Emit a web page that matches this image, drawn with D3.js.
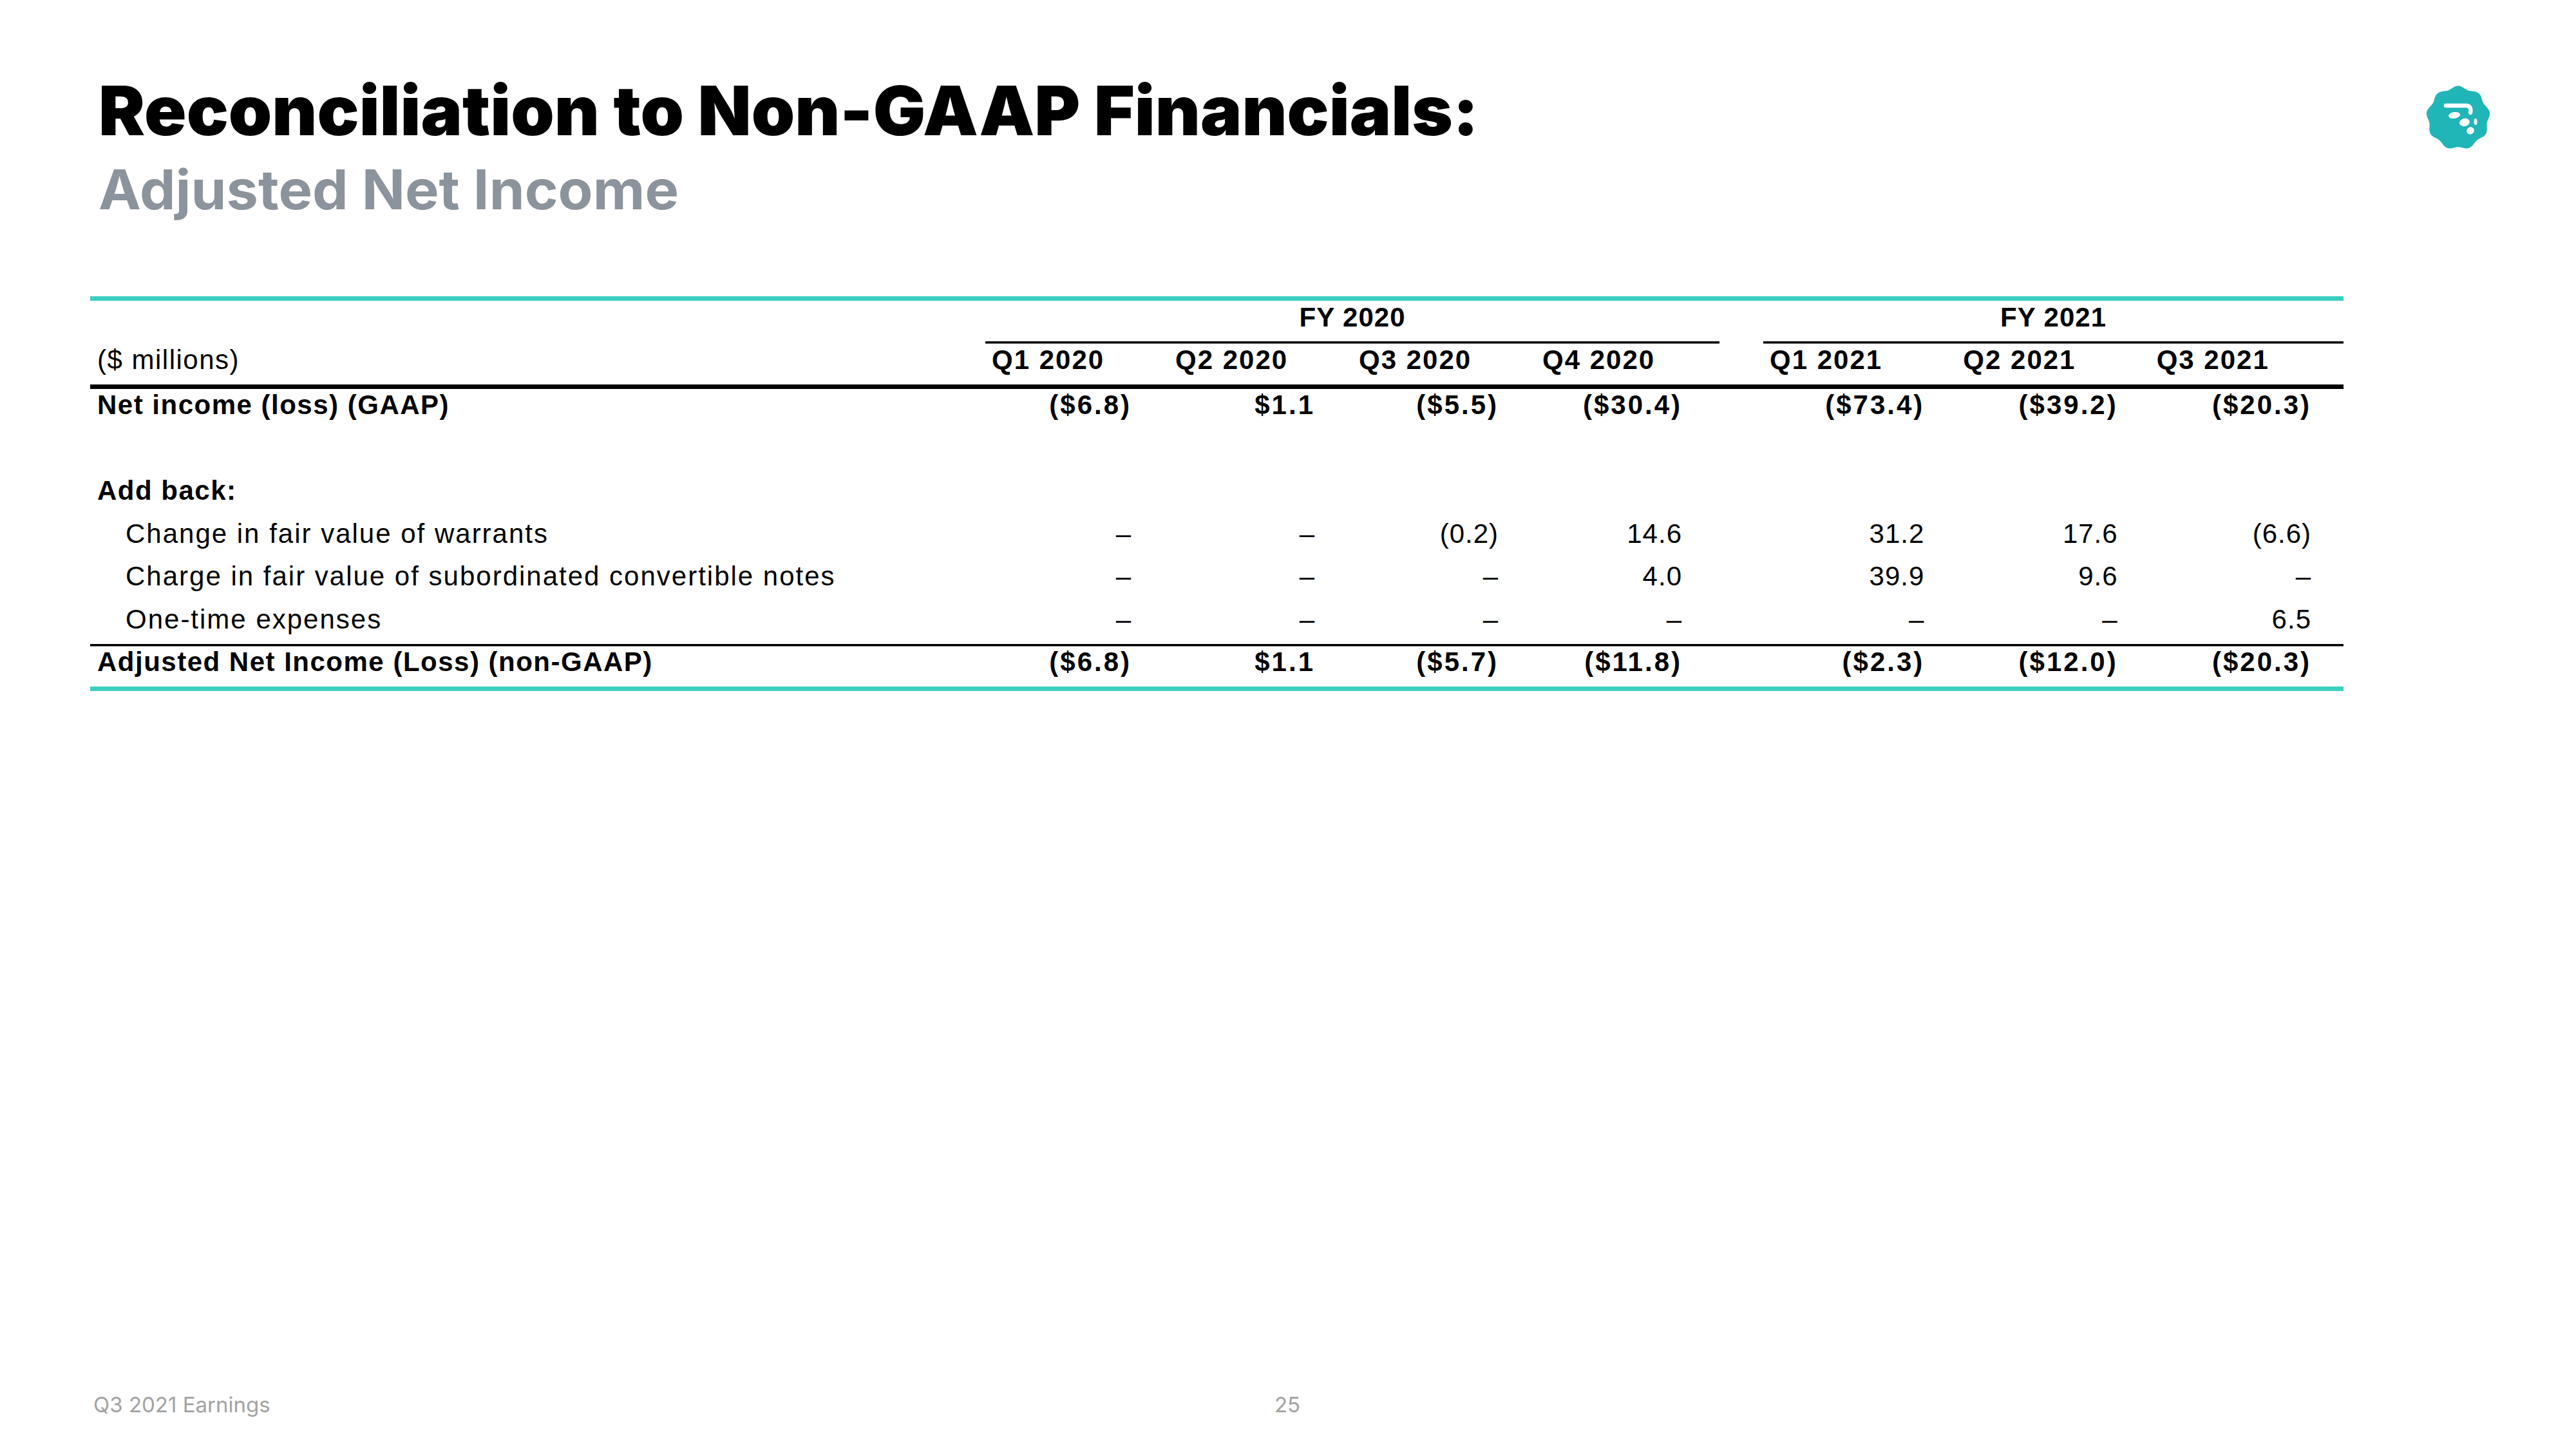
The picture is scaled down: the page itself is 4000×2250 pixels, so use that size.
<!DOCTYPE html>
<html>
<head>
<meta charset="utf-8">
<script src="https://cdn.jsdelivr.net/npm/d3@7"></script>
<style>
  body { margin: 0; background: #ffffff; }
  svg { display: block; }
</style>
</head>
<body>
<div id="slide"></div>
<script>

// table data
var quarters2020 = ["Q1 2020", "Q2 2020", "Q3 2020", "Q4 2020"];
var quarters2021 = ["Q1 2021", "Q2 2021", "Q3 2021"];
var fiscalYears = ["FY 2020", "FY 2021"];

var netIncome = [-6.8, 1.1, -5.5, -30.4, -73.4, -39.2, -20.3];
var warrants = [null, null, -0.2, 14.6, 31.2, 17.6, -6.6];
var convertibleNotes = [null, null, null, 4.0, 39.9, 9.6, null];
var oneTimeExpenses = [null, null, null, null, null, null, 6.5];
var adjustedNetIncome = [-6.8, 1.1, -5.7, -11.8, -2.3, -12.0, -20.3];

var rows = [
    {label: "Net income (loss) (GAAP)", values: netIncome, bold: true, dollar: true, indent: false},
    {label: "", values: null},
    {label: "Add back:", values: null, bold: true, indent: false},
    {label: "Change in fair value of warrants", values: warrants, bold: false, dollar: false, indent: true},
    {label: "Charge in fair value of subordinated convertible notes", values: convertibleNotes, bold: false, dollar: false, indent: true},
    {label: "One-time expenses", values: oneTimeExpenses, bold: false, dollar: false, indent: true},
    {label: "Adjusted Net Income (Loss) (non-GAAP)", values: adjustedNetIncome, bold: true, dollar: true, indent: false}
];

var W = 4000, H = 2250;
var teal = "#3ccfc0";
var tableFont = "'Liberation Sans', Arial, sans-serif";
var titleFont = "Inter, 'Noto Sans', sans-serif";

var svg = d3.select("#slide")
    .append("svg")
    .attr("width", W)
    .attr("height", H)
    .attr("viewBox", "0 0 " + W + " " + H);

svg.append("rect").attr("width", W).attr("height", H).attr("fill", "#ffffff");

// titles
svg.append("text")
    .attr("x", 153)
    .attr("y", 210)
    .attr("font-family", titleFont)
    .attr("font-weight", 900)
    .attr("font-size", 106)
    .attr("fill", "#000000")
    .attr("textLength", 2143)
    .attr("lengthAdjust", "spacingAndGlyphs")
    .text("Reconciliation to Non-GAAP Financials:");

svg.append("text")
    .attr("x", 153)
    .attr("y", 325)
    .attr("font-family", titleFont)
    .attr("font-weight", 700)
    .attr("font-size", 85)
    .attr("fill", "#8b949c")
    .attr("textLength", 901)
    .attr("lengthAdjust", "spacingAndGlyphs")
    .text("Adjusted Net Income");

// logo badge
var logo = svg.append("g").attr("transform", "translate(3817,183)");
var badge = d3.lineRadial()
    .angle(function(d) { return d; })
    .radius(function(d) { return 47.5 + 2.2 * Math.cos(9 * d); })
    .curve(d3.curveCardinalClosed);
logo.append("path")
    .attr("d", badge(d3.range(0, 2 * Math.PI, Math.PI / 36)))
    .attr("fill", "#20b5b7");
logo.append("path")
    .attr("d", "M-19,-19 L13,-19 Q21,-18 19,-8")
    .attr("fill", "none")
    .attr("stroke", "#ffffff")
    .attr("stroke-width", 6.5)
    .attr("stroke-linecap", "round");
var dots = [[-6, -4, 9, 5, -8], [10, 7, 8, 6, -15], [27, 6, 2.6, 5, 0], [19, 20, 6, 5.5, -30]];
logo.selectAll("ellipse")
    .data(dots)
    .enter()
    .append("ellipse")
    .attr("cx", 0).attr("cy", 0)
    .attr("rx", function(d) { return d[2]; })
    .attr("ry", function(d) { return d[3]; })
    .attr("transform", function(d) { return "translate(" + d[0] + "," + d[1] + ") rotate(" + d[4] + ")"; })
    .attr("fill", "#ffffff");

// scales
var tableLeft = 140, tableRight = 3639;
var x2020 = d3.scaleBand().domain(quarters2020).range([1530, 2670]);
var x2021 = d3.scaleBand().domain(quarters2021).range([2738, tableRight]);
var groups = [
    {name: fiscalYears[0], scale: x2020, cols: quarters2020, inset: 58},
    {name: fiscalYears[1], scale: x2021, cols: quarters2021, inset: 50}
];
var allCols = [];
groups.forEach(function(g) {
    g.cols.forEach(function(q) { allCols.push({q: q, s: g.scale, inset: g.inset}); });
});

var rowY = d3.scaleLinear().domain([0, rows.length - 1]).range([643, 1042]);

// rules
svg.append("rect").attr("x", tableLeft).attr("y", 460).attr("width", tableRight - tableLeft).attr("height", 7).attr("fill", teal);
svg.append("rect").attr("x", tableLeft).attr("y", 597).attr("width", tableRight - tableLeft).attr("height", 7).attr("fill", "#000000");
svg.append("rect").attr("x", tableLeft).attr("y", 1000).attr("width", tableRight - tableLeft).attr("height", 3.5).attr("fill", "#000000");
svg.append("rect").attr("x", tableLeft).attr("y", 1066).attr("width", tableRight - tableLeft).attr("height", 7).attr("fill", teal);

// fiscal year headers
var fy = svg.selectAll(".fy")
    .data(groups)
    .enter()
    .append("g")
    .attr("class", "fy");
fy.append("rect")
    .attr("x", function(d) { return d.scale.range()[0]; })
    .attr("y", 530)
    .attr("width", function(d) { return d.scale.range()[1] - d.scale.range()[0]; })
    .attr("height", 3.5)
    .attr("fill", "#000000");
fy.append("text")
    .attr("x", function(d) { return (d.scale.range()[0] + d.scale.range()[1]) / 2; })
    .attr("y", 507)
    .attr("text-anchor", "middle")
    .attr("font-family", tableFont)
    .attr("font-weight", 700)
    .attr("font-size", 42)
    .attr("letter-spacing", 1)
    .text(function(d) { return d.name; });

// column headers
svg.append("text")
    .attr("x", 151)
    .attr("y", 573)
    .attr("font-family", tableFont)
    .attr("font-size", 42)
    .attr("letter-spacing", 1.5)
    .text("($ millions)");

svg.selectAll(".colhead")
    .data(allCols)
    .enter()
    .append("text")
    .attr("class", "colhead")
    .attr("x", function(d) { return d.s(d.q) + 10; })
    .attr("y", 573)
    .attr("font-family", tableFont)
    .attr("font-weight", 700)
    .attr("font-size", 42)
    .attr("letter-spacing", 2)
    .text(function(d) { return d.q; });

function fmt(v, dollar) {
    if (v === null) return "\u2013";
    var s = Math.abs(v).toFixed(1);
    if (dollar) s = "$" + s;
    return v < 0 ? "(" + s + ")" : s;
}

// body rows
var row = svg.selectAll(".row")
    .data(rows)
    .enter()
    .append("g")
    .attr("class", "row")
    .attr("transform", function(d, i) { return "translate(0," + rowY(i) + ")"; });

row.append("text")
    .attr("x", function(d) { return d.indent ? 195 : 151; })
    .attr("font-family", tableFont)
    .attr("font-weight", function(d) { return d.bold ? 700 : 400; })
    .attr("font-size", 42)
    .attr("letter-spacing", function(d) { return d.bold ? 1.5 : 2; })
    .text(function(d) { return d.label; });

row.filter(function(d) { return d.values; })
    .selectAll(".val")
    .data(function(d) {
        return d.values.map(function(v, j) { return {v: v, col: allCols[j], row: d}; });
    })
    .enter()
    .append("text")
    .attr("class", "val")
    .attr("x", function(d) { return d.col.s(d.col.q) + d.col.s.bandwidth() - d.col.inset; })
    .attr("text-anchor", "end")
    .attr("font-family", tableFont)
    .attr("font-weight", function(d) { return d.row.bold ? 700 : 400; })
    .attr("font-size", 42)
    .attr("letter-spacing", function(d) { return d.row.bold ? 3 : 1; })
    .text(function(d) { return fmt(d.v, d.row.dollar); });

// footer
svg.append("text")
    .attr("x", 145)
    .attr("y", 2193)
    .attr("font-family", titleFont)
    .attr("font-size", 33)
    .attr("fill", "#a3a3a3")
    .text("Q3 2021 Earnings");
svg.append("text")
    .attr("x", 1999)
    .attr("y", 2193)
    .attr("text-anchor", "middle")
    .attr("font-family", titleFont)
    .attr("font-size", 33)
    .attr("fill", "#a3a3a3")
    .text("25");

</script>
</body>
</html>
